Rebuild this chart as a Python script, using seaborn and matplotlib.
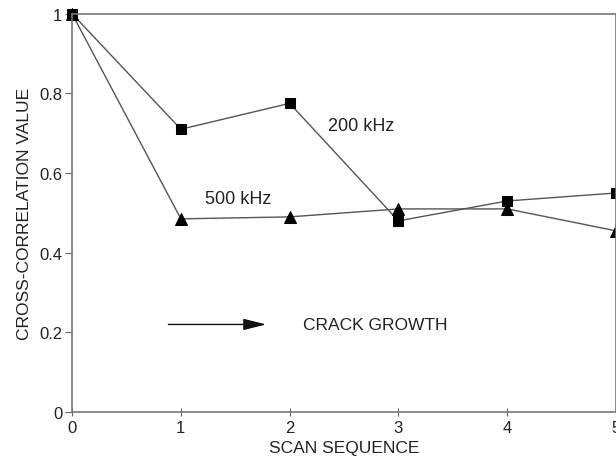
import pandas as pd
import matplotlib.pyplot as plt
import seaborn as sns

# Data
scan = [0, 1, 2, 3, 4, 5]
val_200 = [1.0, 0.71, 0.775, 0.48, 0.53, 0.55]
val_500 = [1.0, 0.485, 0.49, 0.51, 0.51, 0.455]
y_ticks = [0, 0.2, 0.4, 0.6, 0.8, 1]
y_labels = ["0", "0.2", "0.4", "0.6", "0.8", "1"]

df = pd.DataFrame({
    "scan": scan * 2,
    "value": val_200 + val_500,
    "freq": ["200 kHz"] * 6 + ["500 kHz"] * 6,
})

sns.set_style("ticks")
plt.rcParams["font.family"] = ["Liberation Sans", "DejaVu Sans"]

fig = plt.figure(figsize=(6.16, 4.6), dpi=100)
ax = fig.add_axes([0.117, 0.102, 0.883, 0.866])

line_col = "#555555"
txt_col = "#222222"
sns.lineplot(data=df[df.freq == "200 kHz"], x="scan", y="value", ax=ax,
             color=line_col, lw=1.0, marker="s", markersize=6.5,
             markerfacecolor="black", markeredgecolor="black", clip_on=False)
sns.lineplot(data=df[df.freq == "500 kHz"], x="scan", y="value", ax=ax,
             color=line_col, lw=1.0, marker="^", markersize=8.5,
             markerfacecolor="black", markeredgecolor="black", clip_on=False)

ax.set_xlim(0, 5)
ax.set_ylim(0, 1)
ax.set_xticks(scan)
ax.set_yticks(y_ticks)
ax.set_yticklabels(y_labels)
ax.tick_params(axis="y", direction="out", length=5, color="#666666",
               labelsize=12, colors=txt_col, pad=2)
ax.tick_params(axis="x", direction="inout", length=6, color="#666666",
               labelsize=12, colors=txt_col, pad=3)
for s in ax.spines.values():
    s.set_color("#777777")
    s.set_linewidth(1.2)

ax.set_xlabel("SCAN SEQUENCE", fontsize=12.5, color=txt_col, labelpad=3)
ax.set_ylabel("CROSS-CORRELATION VALUE", fontsize=12.5, color=txt_col, labelpad=5)

ax.text(2.35, 0.72, "200 kHz", fontsize=13, color=txt_col, va="center")
ax.text(1.22, 0.535, "500 kHz", fontsize=13, color=txt_col, va="center")
ax.text(2.12, 0.22, "CRACK GROWTH", fontsize=12.5, color=txt_col, va="center")
ax.annotate("", xy=(1.81, 0.22), xytext=(0.86, 0.22),
            arrowprops=dict(arrowstyle="-|>,head_length=1.4,head_width=0.35",
                            color="#111111", lw=1.0))

fig.savefig("out.png", dpi=100)
